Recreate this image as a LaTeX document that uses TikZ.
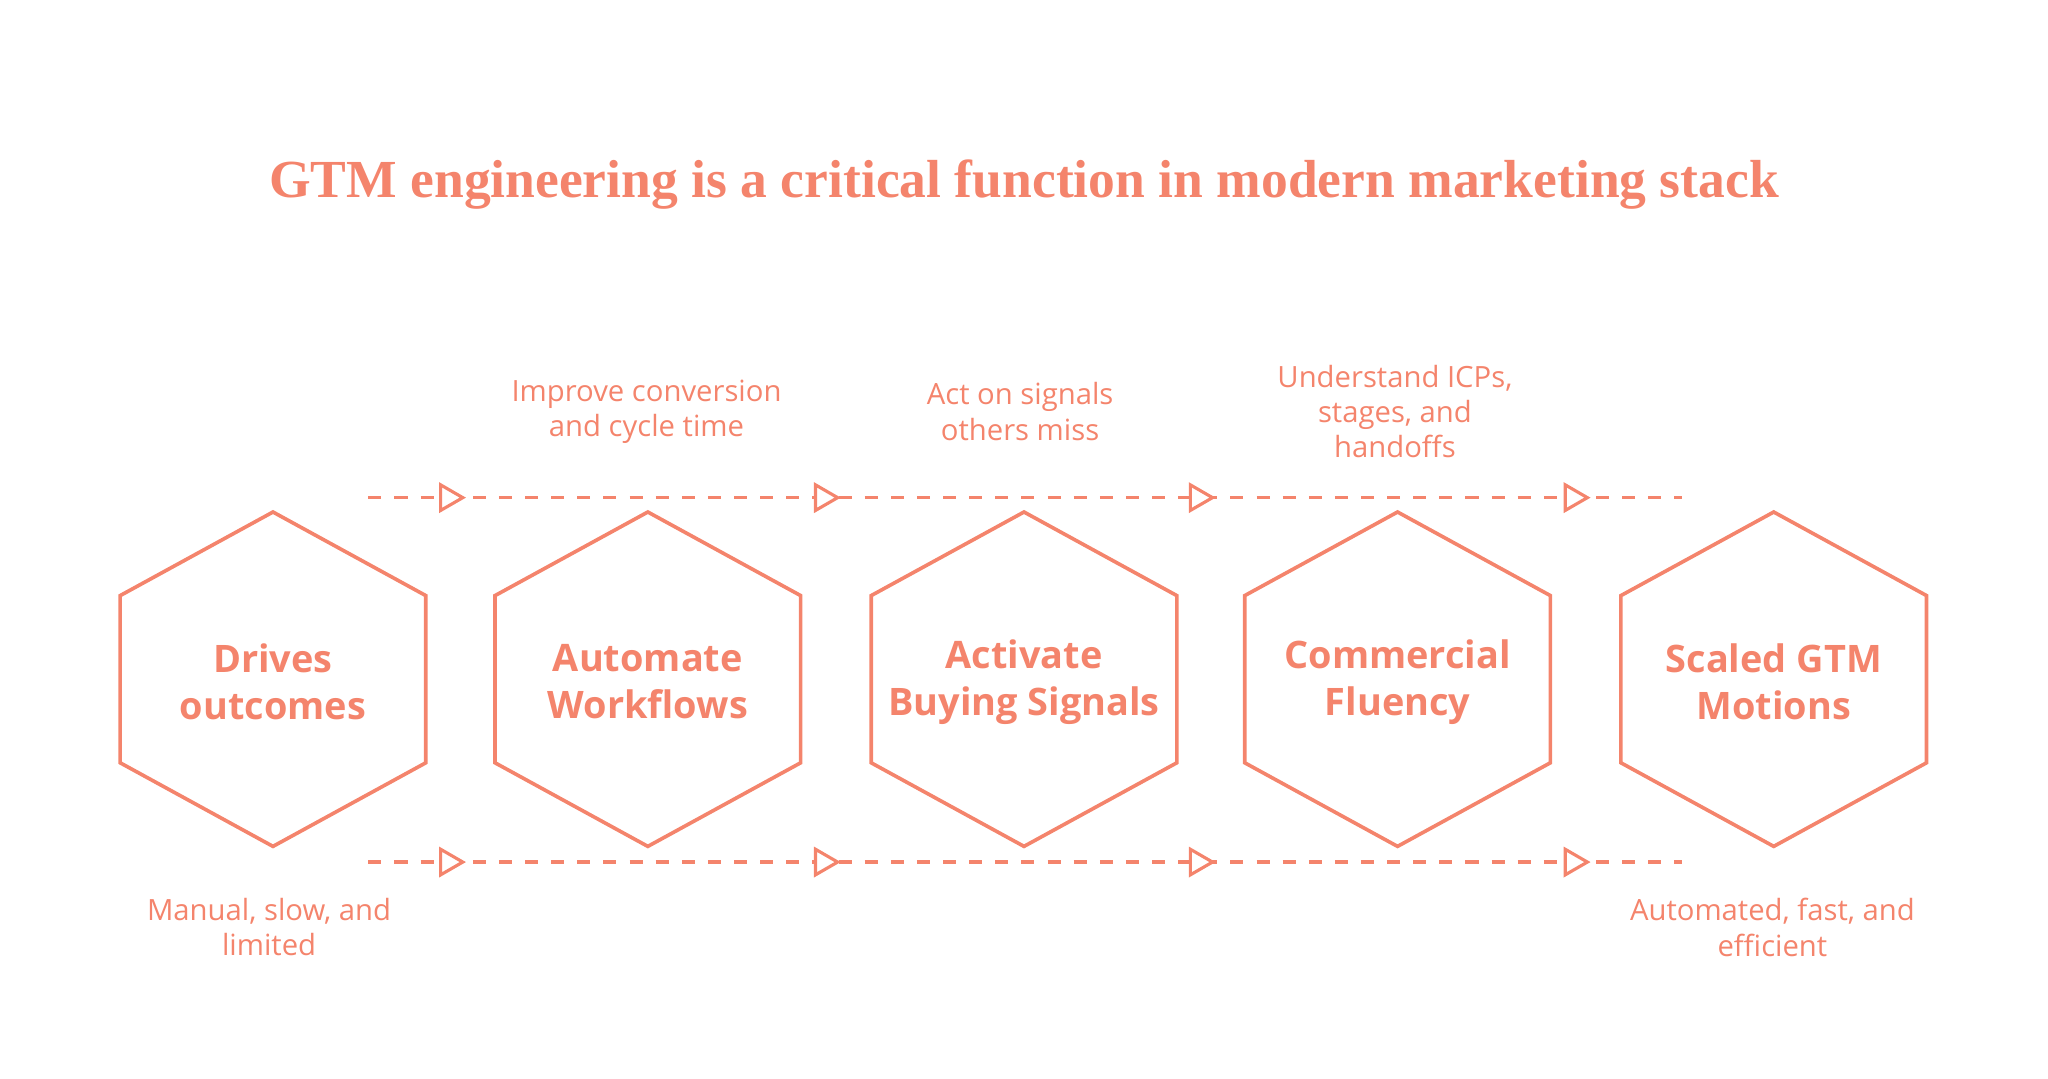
\documentclass[tikz,border=0pt]{standalone}
\usepackage{fontspec}
\setmainfont{Open Sans}
\newfontfamily\titlefont{Liberation Serif}
\usetikzlibrary{shapes.geometric}
\definecolor{sal}{HTML}{F4846C}
\begin{document}
\begin{tikzpicture}[x=0.5pt,y=-0.5pt,
  hexa/.style={draw=sal,line width=1.4pt},
  hlab/.style={text=sal,font=\fontsize{14.5}{18}\selectfont\bfseries,align=center},
  slab/.style={text=sal,font=\fontsize{11.2}{13.5}\selectfont,align=center},
  flow/.style={draw=sal,line width=1.2pt,dash pattern=on 5pt off 5pt},
  tri/.style={isosceles triangle,draw=sal,fill=white,line width=1.2pt,minimum width=9.5pt,minimum height=8.5pt,inner sep=0pt,isosceles triangle apex angle=60}]
\useasboundingbox (0,0) rectangle (1568,826);
\node[text=sal,font=\titlefont\fontsize{20.5}{24}\selectfont\bfseries] (title) at (784,141) {GTM engineering is a critical function in modern marketing stack};
\foreach \cx/\n/\t in {209/h1/{Drives\\outcomes},496/h2/{Automate\\Workflows},784/h3/{Activate\\Buying Signals},1070/h4/{Commercial\\Fluency},1358/h5/{Scaled GTM\\Motions}}{
  \draw[hexa] (\cx,392) -- (\cx+117,456) -- (\cx+117,584) -- (\cx,648) -- (\cx-117,584) -- (\cx-117,456) -- cycle;
  \node[hlab] (\n) at (\cx,522) {\t};
}
\foreach \r/\y in {a/381,b/660}{
  \coordinate (\r s) at (282,\y);
  \coordinate (\r e) at (1288,\y);
  \draw[flow] (\r s) -- (\r e);
  \foreach \x/\i in {343/1,630/2,917/3,1204/4}
    \node[tri] (\r t\i) at (\x,\y) {};
}
\node[slab] (l1) at (495,315) {Improve conversion\\and cycle time};
\node[slab] (l2) at (781,315) {Act on signals\\others miss};
\node[slab] (l3) at (1068,315) {Understand ICPs,\\stages, and\\handoffs};
\node[slab] (l4) at (206,710) {Manual, slow, and\\limited};
\node[slab] (l5) at (1357,710) {Automated, fast, and\\efficient};
\end{tikzpicture}
\end{document}
